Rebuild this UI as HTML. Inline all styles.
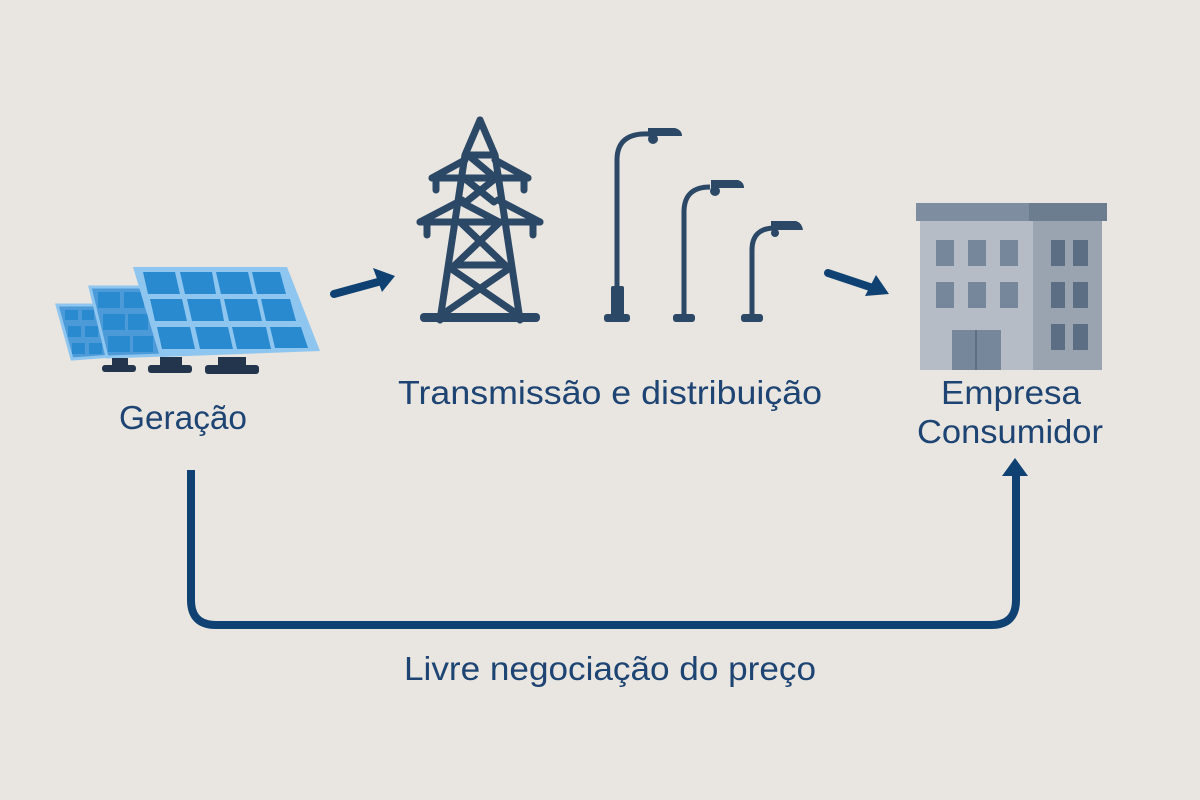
<!DOCTYPE html>
<html><head><meta charset="utf-8"><style>
html,body{margin:0;padding:0;background:#e9e5e0;}
svg{display:block}
text{font-family:"Liberation Sans",sans-serif;fill:#1d4472;}
</style></head><body>
<svg width="1200" height="800" viewBox="0 0 1200 800">
<rect width="1200" height="800" fill="#e9e5e0"/>
<!-- solar panels -->
<g fill="#4d9ad9" stroke="#8ec6f0" stroke-width="3">
<polygon points="57,305 98,305 112,356 72,359"/>
</g>
<g fill="#2a8ad0">
<rect x="65" y="310" width="13" height="10"/><rect x="82" y="310" width="12" height="10"/>
<rect x="68" y="326" width="13" height="11"/><rect x="85" y="326" width="13" height="11"/>
<rect x="72" y="343" width="13" height="11"/><rect x="89" y="343" width="13" height="11"/>
</g>
<polygon points="90,287 152,287 165,355 107,357" fill="#4d9ad9" stroke="#8ec6f0" stroke-width="3"/>
<g fill="#2a8ad0">
<rect x="98" y="292" width="22" height="16"/><rect x="124" y="292" width="20" height="16"/>
<rect x="103" y="314" width="22" height="16"/><rect x="128" y="314" width="20" height="16"/>
<rect x="108" y="336" width="22" height="16"/><rect x="133" y="336" width="20" height="16"/>
</g>
<polygon points="133,267 287,267 320,351 160,357" fill="#8ec6f0"/>
<g fill="#2a8ad0">
<polygon points="143,272 175,272 180,294 148,294"/><polygon points="180,272 212,272 216,294 185,294"/>
<polygon points="216,272 248,272 253,294 221,294"/><polygon points="252,272 280,272 286,294 257,294"/>
<polygon points="150,299 182,299 187,321 155,321"/><polygon points="187,299 220,299 224,321 192,321"/>
<polygon points="224,299 257,299 262,321 229,321"/><polygon points="261,299 290,299 296,321 266,321"/>
<polygon points="157,327 190,327 195,349 162,349"/><polygon points="195,327 228,327 233,349 200,349"/>
<polygon points="232,327 266,327 271,349 237,349"/><polygon points="270,327 301,327 308,348 275,348"/>
</g>
<g fill="#23354d">
<rect x="112" y="358" width="16" height="8"/><rect x="102" y="365" width="34" height="7" rx="3"/>
<rect x="160" y="357" width="22" height="9"/><rect x="148" y="365" width="44" height="8" rx="3"/>
<rect x="218" y="357" width="28" height="10"/><rect x="205" y="365" width="54" height="9" rx="3"/>
</g>
<!-- arrows -->
<g stroke="#0f4272" stroke-width="8" stroke-linecap="round" fill="#0f4272">
<line x1="334" y1="294" x2="378" y2="282"/>
<line x1="828" y1="273" x2="870" y2="287"/>
</g>
<polygon points="373,268 395,276 382,292" fill="#0f4272"/>
<polygon points="876,275 889,294 865,296" fill="#0f4272"/>
<!-- tower -->
<g stroke="#2b4866" stroke-width="7" stroke-linecap="round" fill="none">
<polyline points="480,120 465,155 440,320"/>
<polyline points="480,120 495,155 520,320"/>
<line x1="466" y1="155" x2="494" y2="155"/>
<line x1="468" y1="155" x2="492" y2="175"/>
<line x1="432" y1="178" x2="528" y2="178"/>
<line x1="465" y1="160" x2="432" y2="178"/><line x1="495" y1="160" x2="528" y2="178"/>
<line x1="464" y1="178" x2="494" y2="202"/><line x1="496" y1="178" x2="466" y2="202"/>
<line x1="420" y1="222" x2="540" y2="222"/>
<line x1="462" y1="200" x2="420" y2="222"/><line x1="498" y1="200" x2="540" y2="222"/>
<line x1="461" y1="202" x2="499" y2="222"/>
<line x1="460" y1="222" x2="505" y2="265"/><line x1="500" y1="222" x2="455" y2="265"/>
<line x1="455" y1="265" x2="505" y2="265"/>
<line x1="453" y1="270" x2="520" y2="316"/><line x1="507" y1="270" x2="440" y2="316"/>
<line x1="436" y1="178" x2="436" y2="190"/><line x1="524" y1="178" x2="524" y2="190"/>
<line x1="427" y1="222" x2="427" y2="235"/><line x1="533" y1="222" x2="533" y2="235"/>
</g>
<rect x="420" y="313" width="120" height="9" rx="4" fill="#2b4866"/>
<!-- street lamps -->
<g stroke="#2b4866" stroke-width="5" fill="none">
<path d="M617,290 V160 Q617,132 650,134"/>
<path d="M684,316 V212 Q684,187 710,187"/>
<path d="M752,316 V250 Q752,228 775,228"/>
</g>
<g fill="#2b4866">
<path d="M648,128 H675 Q682,130 682,136 H648 Z"/><circle cx="653" cy="139" r="5"/>
<path d="M711,180 H738 Q744,182 744,188 H711 Z"/><circle cx="715" cy="191" r="5"/>
<path d="M771,221 H796 Q802,223 803,230 H771 Z"/><circle cx="775" cy="233" r="4"/>
<rect x="611" y="286" width="13" height="30" rx="2"/>
<rect x="604" y="314" width="26" height="8" rx="3"/>
<rect x="673" y="314" width="22" height="8" rx="3"/>
<rect x="741" y="314" width="22" height="8" rx="3"/>
</g>
<!-- building -->
<rect x="920" y="218" width="113" height="152" fill="#b5bcc6"/>
<rect x="1033" y="218" width="69" height="152" fill="#9aa4b1"/>
<rect x="916" y="203" width="113" height="18" fill="#7e8ea0"/>
<rect x="1029" y="203" width="78" height="18" fill="#6d7d90"/>
<g fill="#76879b">
<rect x="936" y="240" width="18" height="26"/><rect x="968" y="240" width="18" height="26"/><rect x="1000" y="240" width="18" height="26"/>
<rect x="936" y="282" width="18" height="26"/><rect x="968" y="282" width="18" height="26"/><rect x="1000" y="282" width="18" height="26"/>
<rect x="952" y="330" width="49" height="40"/>
</g>
<line x1="976" y1="330" x2="976" y2="370" stroke="#5f6f83" stroke-width="2"/>
<g fill="#5c6e84">
<rect x="1051" y="240" width="14" height="26"/><rect x="1073" y="240" width="15" height="26"/>
<rect x="1051" y="282" width="14" height="26"/><rect x="1073" y="282" width="15" height="26"/>
<rect x="1051" y="324" width="14" height="26"/><rect x="1073" y="324" width="15" height="26"/>
</g>
<!-- bottom connector -->
<path d="M191,470 V600 Q191,625 216,625 H991 Q1016,625 1016,600 V472" stroke="#0f4272" stroke-width="8" fill="none"/>
<polygon points="1015,458 1028,476 1002,476" fill="#0f4272"/>
<!-- labels -->
<text x="183" y="429" font-size="33" text-anchor="middle" textLength="128" lengthAdjust="spacingAndGlyphs">Geração</text>
<text x="610" y="404" font-size="33" text-anchor="middle" textLength="424" lengthAdjust="spacingAndGlyphs">Transmissão e distribuição</text>
<text x="1011" y="404" font-size="33" text-anchor="middle" textLength="140" lengthAdjust="spacingAndGlyphs">Empresa</text>
<text x="1010" y="443" font-size="33" text-anchor="middle" textLength="186" lengthAdjust="spacingAndGlyphs">Consumidor</text>
<text x="610" y="680" font-size="33" text-anchor="middle" textLength="412" lengthAdjust="spacingAndGlyphs">Livre negociação do preço</text>
</svg>
</body></html>
